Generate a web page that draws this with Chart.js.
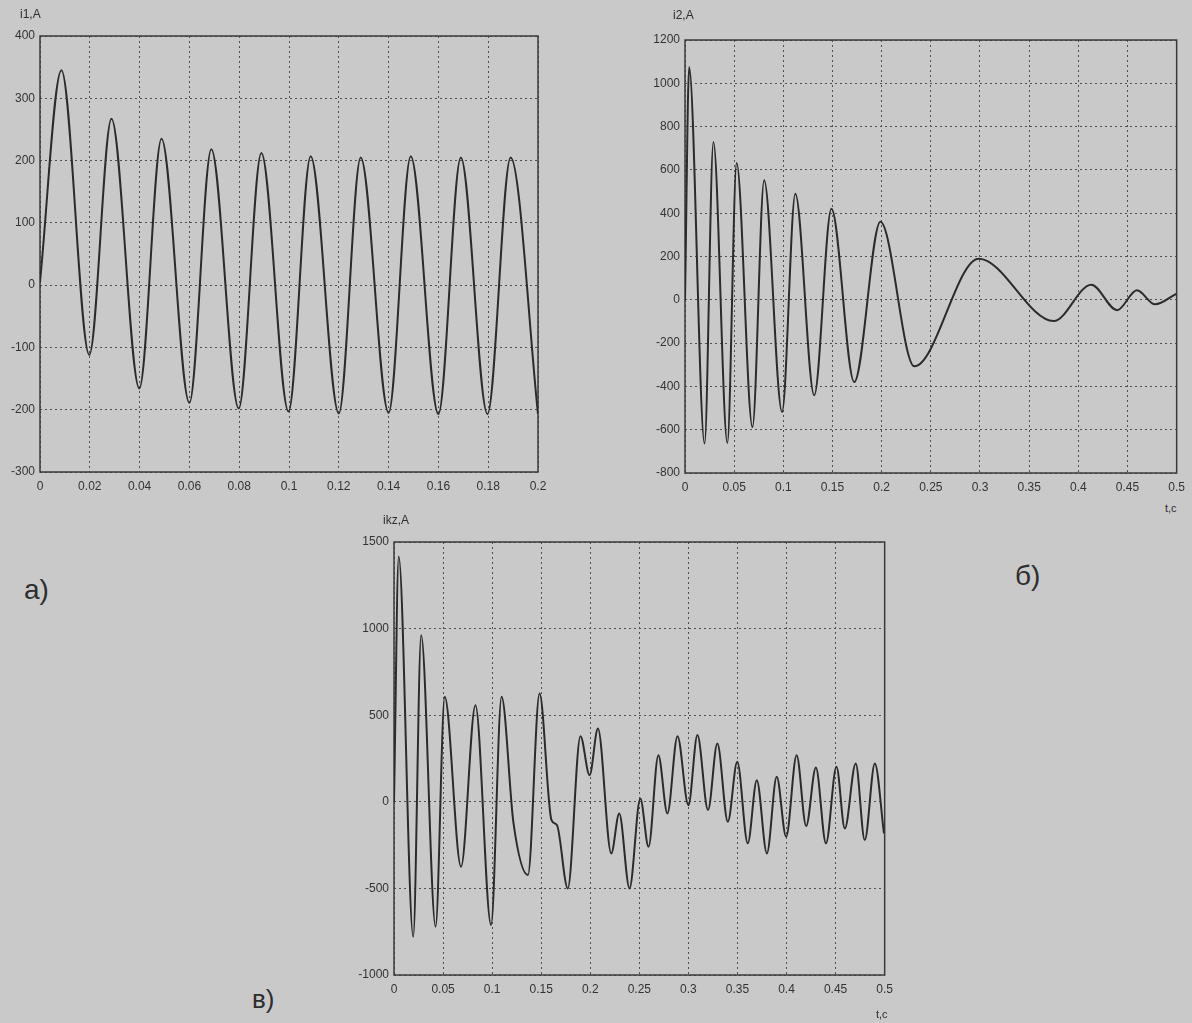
<!DOCTYPE html>
<html><head><meta charset="utf-8">
<script src="https://cdn.jsdelivr.net/npm/chart.js@4.4.1/dist/chart.umd.min.js"></script>
<style>
html,body{margin:0;padding:0;width:1192px;height:1023px;overflow:hidden;background:#c9c9c9;font-family:"Liberation Sans",Arial,sans-serif;}
.c{position:absolute;}
.lbl{position:absolute;color:#2e2e2e;white-space:nowrap;line-height:1;}
</style></head><body>

<div class="c" style="left:0;top:0;width:560px;height:500px"><canvas id="ca" width="560" height="500"></canvas></div>
<div class="c" style="left:630px;top:0;width:562px;height:500px"><canvas id="cb" width="562" height="500"></canvas></div>
<div class="c" style="left:330px;top:510px;width:570px;height:500px"><canvas id="cc" width="570" height="500"></canvas></div>

<div class="lbl" style="left:20px;top:8px;font-size:12px">i1,A</div>
<div class="lbl" style="left:673px;top:9px;font-size:12px">i2,A</div>
<div class="lbl" style="left:383px;top:514px;font-size:12px">ikz,A</div>
<div class="lbl" style="left:1165px;top:503px;font-size:11px">t,c</div>
<div class="lbl" style="left:876px;top:1009px;font-size:11px">t,c</div>
<div class="lbl" style="left:24px;top:576px;font-size:28px">а)</div>
<div class="lbl" style="left:1015px;top:562px;font-size:28px">б)</div>
<div class="lbl" style="left:252px;top:986px;font-size:26px">в)</div>

<script>
// ---- Chart а): i1(t) ----
const tA = [0, 0.0086, 0.0198, 0.0287, 0.0399, 0.0488, 0.0600, 0.0688, 0.0798, 0.0889, 0.0998, 0.1087, 0.1200, 0.1288, 0.1400, 0.1489, 0.1600, 0.1690, 0.1797, 0.1890, 0.2000];
const iA = [5, 345, -112, 267, -166, 235, -189, 218, -198, 212, -203, 207, -206, 205, -205, 207, -207, 205, -207, 205, -207];
const xTicksA = [0, 0.02, 0.04, 0.06, 0.08, 0.1, 0.12, 0.14, 0.16, 0.18, 0.2];
const xLabelsA = ['0', '0.02', '0.04', '0.06', '0.08', '0.1', '0.12', '0.14', '0.16', '0.18', '0.2'];
const yTicksA = [-300, -200, -100, 0, 100, 200, 300, 400];
const yLabelsA = ['-300', '-200', '-100', '0', '100', '200', '300', '400'];

// ---- Chart б): i2(t) ----
const tB = [0, 0.0042, 0.0199, 0.0289, 0.0431, 0.0525, 0.0686, 0.0805, 0.0987, 0.1122, 0.1314, 0.1489, 0.1721, 0.1987, 0.2332, 0.2987, 0.3750, 0.4132, 0.4394, 0.4596, 0.4780, 0.5000];
const iB = [0, 1075, -664, 729, -661, 632, -588, 552, -518, 490, -441, 421, -380, 360, -307, 190, -98, 70, -48, 44, -21, 29];
const xTicksB = [0, 0.05, 0.1, 0.15, 0.2, 0.25, 0.3, 0.35, 0.4, 0.45, 0.5];
const xLabelsB = ['0', '0.05', '0.1', '0.15', '0.2', '0.25', '0.3', '0.35', '0.4', '0.45', '0.5'];
const yTicksB = [-800, -600, -400, -200, 0, 200, 400, 600, 800, 1000, 1200];
const yLabelsB = ['-800', '-600', '-400', '-200', '0', '200', '400', '600', '800', '1000', '1200'];

// ---- Chart в): ikz(t) ----
const tC = [0, 0.0048, 0.0196, 0.0277, 0.0424, 0.0517, 0.0683, 0.0830, 0.0989, 0.1096, 0.1218, 0.1365, 0.1483, 0.1605, 0.1660, 0.1771, 0.1900, 0.1993, 0.2078, 0.2214, 0.2295, 0.2400, 0.2510, 0.2594, 0.2694, 0.2786, 0.2889, 0.3000, 0.3092, 0.3200, 0.3295, 0.3402, 0.3498, 0.3605, 0.3697, 0.3800, 0.3900, 0.3996, 0.4103, 0.4200, 0.4299, 0.4402, 0.4509, 0.4594, 0.4705, 0.4797, 0.4900, 0.4993];
const iC = [0, 1417, -779, 962, -721, 606, -375, 558, -711, 606, -125, -423, 625, -106, -134, -500, 379, 154, 423, -298, -67, -500, 19, -260, 269, -67, 379, -20, 385, -48, 336, -115, 231, -240, 125, -298, 144, -202, 269, -140, 198, -240, 202, -154, 221, -221, 221, -183];
const xTicksC = [0, 0.05, 0.1, 0.15, 0.2, 0.25, 0.3, 0.35, 0.4, 0.45, 0.5];
const xLabelsC = ['0', '0.05', '0.1', '0.15', '0.2', '0.25', '0.3', '0.35', '0.4', '0.45', '0.5'];
const yTicksC = [-1000, -500, 0, 500, 1000, 1500];
const yLabelsC = ['-1000', '-500', '0', '500', '1000', '1500'];

const frame = {
  id: 'frame',
  beforeDatasetsDraw(chart) {
    const a = chart.chartArea, ctx = chart.ctx;
    ctx.save();
    ctx.strokeStyle = '#3a3a3a';
    ctx.lineWidth = 1.5;
    ctx.setLineDash([]);
    ctx.strokeRect(a.left, a.top, a.right - a.left, a.bottom - a.top);
    ctx.restore();
  }
};

function makeChart(id, ts, vs, xt, xl, yt, yl, yW, xH, padTop, padRight) {
  const pts = ts.map((t, i) => ({x: t, y: vs[i]}));
  return new Chart(document.getElementById(id), {
    type: 'line',
    data: {datasets: [{data: pts, borderColor: '#2b2b2b', borderWidth: 2, pointRadius: 0, cubicInterpolationMode: 'monotone', fill: false}]},
    options: {
      responsive: false, animation: false, events: [],
      layout: {padding: {top: padTop, right: padRight, left: 0, bottom: 0}},
      plugins: {legend: {display: false}, tooltip: {enabled: false}},
      scales: {
        x: {
          type: 'linear', min: xt[0], max: xt[xt.length - 1],
          afterBuildTicks: ax => { ax.ticks = xt.map(v => ({value: v})); },
          afterFit: ax => { ax.height = xH; },
          ticks: {padding: 7, color: '#333', font: {size: 12, family: 'Liberation Sans'}, maxRotation: 0, autoSkip: false,
                  callback: (v, i) => xl[i]},
          grid: {color: '#505050', lineWidth: 1, drawTicks: false},
          border: {display: false, dash: [2, 3]}
        },
        y: {
          type: 'linear', min: yt[0], max: yt[yt.length - 1],
          afterBuildTicks: ax => { ax.ticks = yt.map(v => ({value: v})); },
          afterFit: ax => { ax.width = yW; },
          ticks: {padding: 5, color: '#333', font: {size: 12, family: 'Liberation Sans'}, autoSkip: false,
                  callback: (v, i) => yl[i]},
          grid: {color: '#505050', lineWidth: 1, drawTicks: false},
          border: {display: false, dash: [2, 3]}
        }
      }
    },
    plugins: [frame]
  });
}

makeChart('ca', tA, iA, xTicksA, xLabelsA, yTicksA, yLabelsA, 40, 28, 36, 22);
makeChart('cb', tB, iB, xTicksB, xLabelsB, yTicksB, yLabelsB, 55, 27, 40, 14);
makeChart('cc', tC, iC, xTicksC, xLabelsC, yTicksC, yLabelsC, 64, 35, 32, 14);
</script>
</body></html>
